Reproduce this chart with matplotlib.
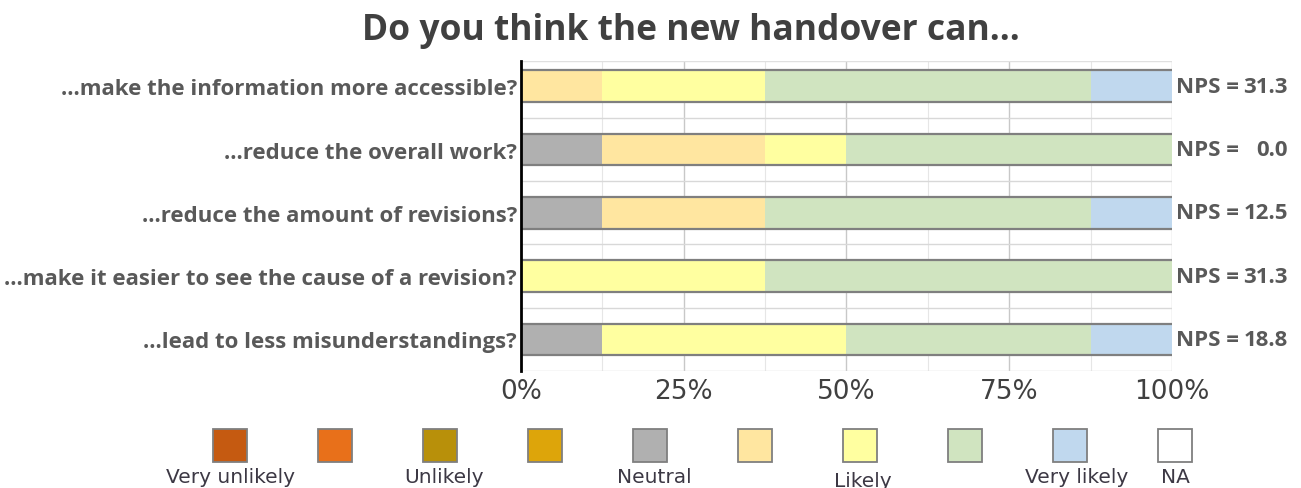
import matplotlib
matplotlib.use("Agg")
import matplotlib.pyplot as plt
from matplotlib.patches import Rectangle

# questions, top to bottom
questions = [
    "...make the information more accessible?",
    "...reduce the overall work?",
    "...reduce the amount of revisions?",
    "...make it easier to see the cause of a revision?",
    "...lead to less misunderstandings?",
]

# share of answers (%) per scale step
very_unlikely = [0, 0, 0, 0, 0]
step2 = [0, 0, 0, 0, 0]
unlikely = [0, 0, 0, 0, 0]
step4 = [0, 0, 0, 0, 0]
neutral = [0, 12.5, 12.5, 0, 12.5]
step6 = [12.5, 25, 25, 0, 0]
likely = [25, 12.5, 0, 37.5, 37.5]
step8 = [50, 50, 50, 62.5, 37.5]
very_likely = [12.5, 0, 12.5, 0, 12.5]
na = [0, 0, 0, 0, 0]

nps = [31.3, 0.0, 12.5, 31.3, 18.8]

legend_labels = ["Very unlikely", "", "Unlikely", "", "Neutral", "", "Likely", "", "Very likely", "NA"]
colors = ["#C55A11", "#E8701A", "#B8900A", "#DDA50A", "#B0B0B0",
          "#FFE6A0", "#FFFFA0", "#D0E4C0", "#C0D8EE", "#FFFFFF"]

series = [very_unlikely, step2, unlikely, step4, neutral, step6, likely, step8, very_likely, na]

label_font = ["Open Sans", "DejaVu Sans"]

fig = plt.figure(figsize=(13.01, 4.89), dpi=100)
ax = fig.add_axes([0.4005, 0.2393, 0.5003, 0.6339])

y = list(range(len(questions)))
bar_h = 0.5

# grid behind bars
for g in [12.5, 37.5, 62.5, 87.5]:
    ax.axvline(g, color="#E6E6E6", lw=0.8, zorder=0)
for g in [25, 50, 75]:
    ax.axvline(g, color="#C8C8C8", lw=1.0, zorder=0)
ax.axvline(100, color="#D0D0D0", lw=1.0, zorder=0)
for i in range(len(questions)):
    ax.axhline(i + 0.5, color="#D8D8D8", lw=1.0, zorder=0)
ax.axhline(-0.4, color="#E0E0E0", lw=1.0, zorder=0)

left = [0] * len(questions)
for vals, c in zip(series, colors):
    ax.barh(y, vals, left=left, height=bar_h, color=c, edgecolor="none", zorder=2)
    left = [l + v for l, v in zip(left, vals)]

# dark outline on top and bottom of each bar
for i in y:
    ax.hlines([i - bar_h / 2, i + bar_h / 2], 0, 100, color="#7F7F7F", lw=1.6, zorder=3)

# NPS labels, numbers right aligned
for i, v in enumerate(nps):
    ax.text(100.6, i, "NPS =", va="center", ha="left", fontsize=16,
            fontweight="bold", color="#595959", family=label_font)
    ax.text(117.8, i, "%.1f" % v, va="center", ha="right", fontsize=16,
            fontweight="bold", color="#595959", family=label_font)

ax.set_xlim(0, 100)
ax.set_ylim(4.5, -0.4)
ax.set_yticks(y)
ax.set_yticklabels(questions, fontsize=16, fontweight="bold", color="#595959", family=label_font)
ax.set_xticks([0, 25, 50, 75, 100])
ax.set_xticklabels(["0%", "25%", "50%", "75%", "100%"], fontsize=19, color="#404040")
ax.tick_params(length=0, pad=5)
ax.tick_params(axis="y", pad=3)
for s in ["top", "right", "bottom"]:
    ax.spines[s].set_visible(False)
ax.spines["left"].set_color("black")
ax.spines["left"].set_linewidth(2)
ax.spines["left"].set_zorder(5)

fig.text(0.531, 0.937, "Do you think the new handover can...", ha="center", va="center",
         fontsize=25.5, fontweight="bold", color="#404040", family=["Open Sans", "DejaVu Sans"])

# legend row
lax = fig.add_axes([0.1368, 0.0, 0.807, 0.14])
lax.set_xlim(0, 10)
lax.set_ylim(0, 1)
lax.axis("off")
label_dx = [0, 0, 0.03, 0, 0.04, 0, 0.02, 0, 0.06, 0]
label_y = [0.31, 0.31, 0.31, 0.31, 0.31, 0.31, 0.25, 0.31, 0.31, 0.31]
for i, (lab, c) in enumerate(zip(legend_labels, colors)):
    lax.add_patch(Rectangle((i + 0.5 - 0.162, 0.38), 0.324, 0.48, facecolor=c,
                            edgecolor="#7F7F7F", lw=1.3))
    if lab:
        lax.text(i + 0.5 + label_dx[i], label_y[i], lab, ha="center", va="top",
                 fontsize=14.5, color="#3C3844")

fig.savefig("out.png", dpi=100)
